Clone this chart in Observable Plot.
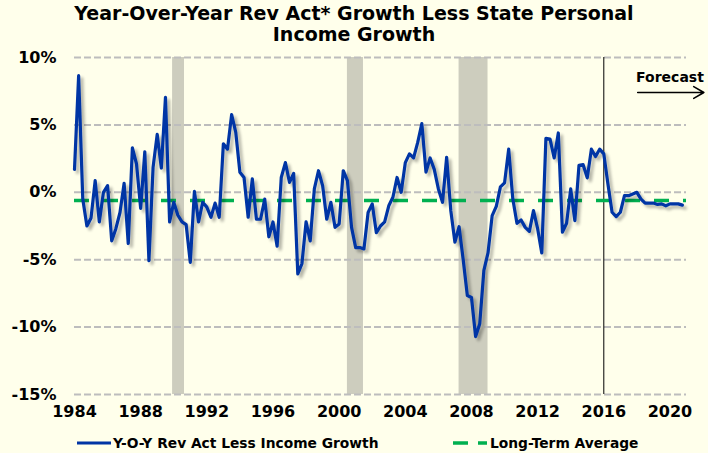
<!DOCTYPE html>
<html>
<head>
<meta charset="utf-8">
<script src="https://cdn.jsdelivr.net/npm/d3@7"></script>
<script src="https://cdn.jsdelivr.net/npm/@observablehq/plot@0.6"></script>
<style>
  html, body { margin: 0; padding: 0; background: #FFFFEB; }
  #wrap { position: relative; width: 708px; height: 453px; overflow: hidden; background: #FFFFEB; font-family: "DejaVu Sans", Verdana, sans-serif; }
  #title { position: absolute; top: 3px; left: 0; width: 708px; text-align: center; font-weight: bold; font-size: 19px; line-height: 21px; color: #000; }
  #chart { position: absolute; top: 48px; left: 0; }
  #legend { position: absolute; top: 432px; left: 0; }
</style>
</head>
<body>
<div id="wrap">
  <div id="title">Year-Over-Year Rev Act* Growth Less State Personal<br>Income Growth</div>
  <div id="chart"></div>
  <svg id="legend" width="708" height="21"></svg>
</div>
<script>
// ---- Data (quarterly, starting 1984 Q1) ----
const startYear = 1984;
const values = [
  1.7, 8.65, -0.5, -2.5, -1.9, 0.87, -2.2, 0.0, 0.5, -3.6,
  -2.7, -1.5, 0.67, -3.8, 3.3, 2.1, -1.2, 3.0, -5.07, 1.85,
  4.3, 1.8, 7.05, -2.2, -0.74, -1.7, -2.2, -2.4, -5.2, 0.07,
  -2.2, -0.74, -1.1, -1.85, -0.8, -1.85, 3.6, 3.2, 5.76, 4.45,
  1.48, 1.1, -1.85, 1.0, -2.0, -2.0, -0.5, -3.3, -2.2, -4.0,
  1.1, 2.2, 0.74, 1.4, -6.05, -5.3, -2.2, -3.6, 0.25, 1.6,
  0.5, -2.0, -0.74, -2.6, -2.35, 1.6, 0.87, -2.6, -4.1, -4.1,
  -4.2, -1.5, -0.86, -3.0, -2.5, -2.2, -1.0, -0.37, 1.1, 0.0,
  2.2, 2.85, 2.55, 3.7, 5.1, 1.5, 2.55, 1.7, 0.25, -0.74,
  2.6, -1.36, -3.7, -2.55, -5.0, -7.66, -7.8, -10.7, -9.75, -5.8,
  -4.5, -1.73, -1.05, 0.4, 0.7, 3.2, -0.5, -2.3, -2.05, -2.6,
  -2.9, -1.36, -2.7, -4.5, 4.0, 3.95, 2.55, 4.4, -2.95, -2.3,
  0.25, -2.1, 2.0, 2.05, 1.07, 3.2, 2.65, 3.2, 2.85, 0.62,
  -1.48, -1.8, -1.48, -0.25, -0.25, -0.12, 0.0, -0.5, -0.8, -0.8,
  -0.8, -0.9, -0.86, -1.0, -0.86, -0.86, -0.86, -0.95
];
const longTermAverage = -0.6;
const recessionStart = [1989.93, 2000.5, 2007.25];
const recessionEnd = [1990.65, 2001.47, 2009.0];
const forecastStart = 2016;
const yTicks = [-15, -10, -5, 0, 5, 10];
const xTicks = [1984, 1988, 1992, 1996, 2000, 2004, 2008, 2012, 2016, 2020];
const seriesName = "Y-O-Y Rev Act Less Income Growth";
const averageName = "Long-Term Average";
const forecastText = "Forecast";
// annotation anchor (data units)
const forecastLabelAt = [{x: 2020.0, y: 8.55}];
const forecastArrowAt = [{x1: 2018.05, x2: 2022.05, y: 7.4}];

// ---- Tables ----
const series = values.map((v, i) => ({year: startYear + i / 4, value: v}));
const recessions = recessionStart.map((s, i) => ({start: s, end: recessionEnd[i]}));

const font = '"DejaVu Sans", Verdana, sans-serif';
const blue = "#0035A5";
const green = "#00B050";

const chart = Plot.plot({
  width: 708,
  height: 380,
  marginLeft: 74,
  marginRight: 22,
  marginTop: 9,
  marginBottom: 34,
  style: {background: "transparent", fontFamily: font, fontSize: "16px", fontWeight: "bold", color: "#000", overflow: "visible"},
  x: {domain: [1984, 2021], ticks: xTicks, tickFormat: d => String(d), tickSize: 0, tickPadding: 11, label: null},
  y: {domain: [-15, 10], ticks: yTicks, tickFormat: d => d + "%", tickSize: 0, tickPadding: 18, label: null},
  marks: [
    Plot.rect(recessions, {x1: "start", x2: "end", fill: "#CDCDBE"}),
    Plot.ruleY(yTicks, {stroke: "#BDBDBD", strokeWidth: 2, strokeDasharray: "7,3"}),
    Plot.ruleX([forecastStart], {stroke: "#000", strokeWidth: 1}),
    Plot.ruleY([longTermAverage], {stroke: green, strokeWidth: 3.5, strokeDasharray: "15,14"}),
    Plot.line(series, {x: "year", y: "value", stroke: blue, strokeWidth: 3.2, strokeLinejoin: "round"}),
    Plot.text(forecastLabelAt, {x: "x", y: "y", text: () => forecastText, fontSize: 14, fontWeight: "bold", fill: "#000", clip: false}),
    Plot.arrow(forecastArrowAt, {x1: "x1", x2: "x2", y1: "y", y2: "y", stroke: "#000", strokeWidth: 1.6, headLength: 11, bend: 0})
  ]
});

// drop shadow for the series line
const ns = "http://www.w3.org/2000/svg";
const defs = document.createElementNS(ns, "defs");
defs.innerHTML = `<filter id="shadow" x="-5%" y="-10%" width="115%" height="130%">
  <feGaussianBlur in="SourceAlpha" stdDeviation="1.6"/>
  <feOffset dx="2.5" dy="3" result="o"/>
  <feComponentTransfer><feFuncA type="linear" slope="0.3"/></feComponentTransfer>
  <feMerge><feMergeNode/><feMergeNode in="SourceGraphic"/></feMerge>
</filter>`;
chart.insertBefore(defs, chart.firstChild);
const lineG = chart.querySelector('g[aria-label="line"]');
if (lineG) lineG.setAttribute("filter", "url(#shadow)");

document.getElementById("chart").appendChild(chart);

// ---- Legend ----
const lg = d3.select("#legend");
lg.append("line").attr("x1", 77).attr("x2", 111).attr("y1", 11).attr("y2", 11)
  .attr("stroke", blue).attr("stroke-width", 3.2);
lg.append("text").attr("x", 113).attr("y", 11).attr("dy", "0.36em")
  .attr("font-family", font).attr("font-weight", "bold").attr("font-size", 13.8).text(seriesName);
lg.append("line").attr("x1", 453).attr("x2", 487).attr("y1", 11).attr("y2", 11)
  .attr("stroke", green).attr("stroke-width", 3.5).attr("stroke-dasharray", "15,10,9");
lg.append("text").attr("x", 490).attr("y", 11).attr("dy", "0.36em")
  .attr("font-family", font).attr("font-weight", "bold").attr("font-size", 13.8).text(averageName);
</script>
</body>
</html>
